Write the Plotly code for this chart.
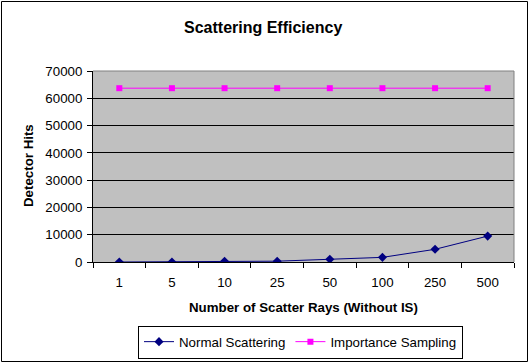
import plotly.graph_objects as go

categories = ["1", "5", "10", "25", "50", "100", "250", "500"]
normal_scattering = [0, 20, 250, 300, 1000, 1700, 4650, 9500]
importance_sampling = [63700, 63700, 63700, 63700, 63700, 63700, 63700, 63700]
y_ticks = [0, 10000, 20000, 30000, 40000, 50000, 60000, 70000]

W, H = 530, 364
L, R, T, B = 93, 514, 71, 262

def px(x):
    return (x - L) / (R - L)

def py(y):
    return (B - y) / (B - T)

font = "Liberation Sans, Arial, sans-serif"
FS = 13.3

fig = go.Figure()
fig.add_trace(go.Scatter(
    x=categories, y=normal_scattering, name="Normal Scattering",
    mode="lines+markers",
    line=dict(color="#000080", width=1),
    marker=dict(symbol="diamond", size=7, color="#000080"),
))
fig.add_trace(go.Scatter(
    x=categories, y=importance_sampling, name="Importance Sampling",
    mode="lines+markers",
    line=dict(color="#FF00FF", width=1),
    marker=dict(symbol="square", size=6, color="#FF00FF"),
))

fig.update_layout(
    width=W, height=H,
    margin=dict(l=L, r=W - R, t=T, b=H - B, autoexpand=False),
    paper_bgcolor="white",
    plot_bgcolor="#C0C0C0",
    font=dict(family=font, size=FS, color="black"),
    showlegend=True,
    legend=dict(
        orientation="h",
        x=px(300.5), y=py(342), xanchor="center", yanchor="middle",
        bordercolor="black", borderwidth=1, bgcolor="white",
        font=dict(family=font, size=FS),
        itemwidth=30, tracegroupgap=0,
    ),
    xaxis=dict(
        type="category",
        tickson="boundaries",
        ticks="outside", ticklen=5, tickcolor="black",
        ticklabelstandoff=8,
        showline=True, linecolor="black", linewidth=1,
        showgrid=False, zeroline=False,
        tickfont=dict(family=font, size=FS),
        range=[-0.5, len(categories) - 0.5],
        automargin=False,
    ),
    yaxis=dict(
        range=[0, 70000],
        tickvals=y_ticks,
        tickformat="d",
        ticks="outside", ticklen=5, tickcolor="black",
        ticklabelstandoff=2,
        showline=True, linecolor="black", linewidth=1,
        showgrid=True, gridcolor="black", gridwidth=1,
        zeroline=False,
        tickfont=dict(family=font, size=FS),
        automargin=False,
    ),
    shapes=[
        dict(type="line", xref="paper", yref="paper", x0=0, x1=1, y0=1, y1=1,
             line=dict(color="#808080", width=1)),
        dict(type="line", xref="paper", yref="paper", x0=1, x1=1, y0=0, y1=1,
             line=dict(color="#808080", width=1)),
        dict(type="rect", xref="paper", yref="paper",
             x0=px(1.5), x1=px(527.5), y0=py(361.5), y1=py(1.5),
             line=dict(color="black", width=1), layer="below"),
    ],
    annotations=[
        dict(text="<b>Scattering Efficiency</b>", xref="paper", yref="paper",
             x=px(263), y=py(28), xanchor="center", yanchor="middle",
             showarrow=False, font=dict(family=font, size=16)),
        dict(text="<b>Number of Scatter Rays (Without IS)</b>", xref="paper", yref="paper",
             x=px(303), y=py(307), xanchor="center", yanchor="middle",
             showarrow=False, font=dict(family=font, size=FS)),
        dict(text="<b>Detector Hits</b>", xref="paper", yref="paper",
             x=px(28), y=py(166), xanchor="center", yanchor="middle", textangle=-90,
             showarrow=False, font=dict(family=font, size=FS)),
    ],
)

fig.write_html(
    "out.html",
    config={"displayModeBar": False},
    post_script="document.body.style.margin='0';document.body.style.overflow='hidden';",
)
